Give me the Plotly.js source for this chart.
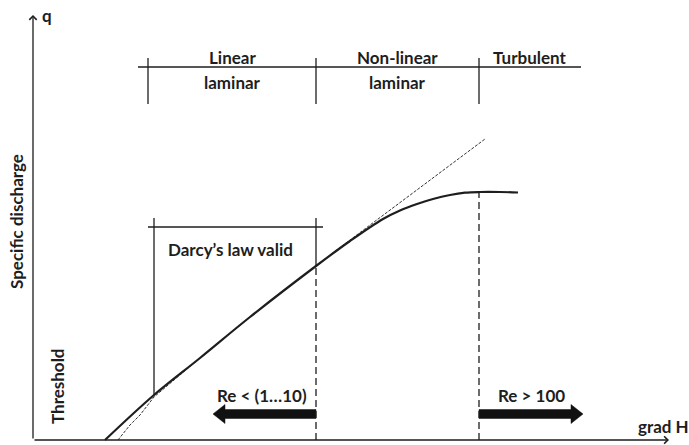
<!DOCTYPE html>
<html>
<head>
<meta charset="utf-8">
<script src="https://cdn.plot.ly/plotly-3.0.1.min.js"></script>
<style>html,body{margin:0;padding:0;background:#fff;}#chart{width:689px;height:445px;}</style>
</head>
<body>
<div id="chart"></div>
<script>
// Conceptual q vs grad H diagram (units: arbitrary, origin at axis crossing)
const gradH = [72, 121, 167, 217, 283, 317, 350, 367, 384, 400, 417, 432, 447, 467, 485];
const q     = [0, 45, 82, 123, 174, 199, 221, 229.5, 236, 241, 245, 247.3, 248, 248, 247.5];

const darcyX = [85, 97, 107, 121, 167, 217, 283, 317, 452];
const darcyQ = [0, 15, 25, 43, 82, 123, 174, 200, 301];

const regimeEdges   = [115, 283, 446];
const regimeCenters = [199, 364, 497];
const regimeTop     = ["Linear", "Non-linear", "Turbulent"];
const regimeBottom  = ["laminar", "laminar", ""];
const bracketSpan   = [105, 548];
const bracketLevel  = 373;
const bracketTicks  = [336, 382];

const darcyBoxX = [121, 283];
const darcyBoxSpan = [115, 290];
const darcyBoxTop = 213;
const darcyBoxTickTop = 222;
const darcyLabel = "Darcy’s law valid";

const reLabels    = ["Re < (1…10)", "Re > 100"];
const reArrowFrom = [283, 446];
const reArrowTo   = [180, 550];
const reArrowLevel = 26;

const axisEnds = {x: 636, y: 425};
const axisTitles = {x: "grad H", y: "q", side: "Specific discharge", threshold: "Threshold"};

const ink = "#1e1e1e";
const FONT = "Lato, 'Open Sans', sans-serif";
const FS = 17;

function interp(xs, ys, x) {
  for (let i = 0; i < xs.length - 1; i++) {
    if (x >= xs[i] && x <= xs[i+1]) {
      const t = (x - xs[i]) / (xs[i+1] - xs[i]);
      return ys[i] + t * (ys[i+1] - ys[i]);
    }
  }
  return ys[ys.length - 1];
}

const traces = [];

// thin dashed Darcy line
traces.push({x: darcyX, y: darcyQ, mode: "lines", line: {color: "#333", width: 1, dash: "3px,1.5px"}, hoverinfo: "skip"});
// main curve
traces.push({x: gradH, y: q, mode: "lines", line: {color: ink, width: 2.2, shape: "spline", smoothing: 1}, hoverinfo: "skip"});

// thick Re arrows as filled polygons
const bodyHalf = 4.5, headHalf = 9.5, headLen = 12;
for (let i = 0; i < reArrowFrom.length; i++) {
  const x0 = reArrowFrom[i], x1 = reArrowTo[i];
  const dir = Math.sign(x1 - x0);
  const xb = x1 - dir * headLen;
  const yc = reArrowLevel;
  traces.push({
    x: [x0, xb, xb, x1, xb, xb, x0, x0],
    y: [yc + bodyHalf, yc + bodyHalf, yc + headHalf, yc, yc - headHalf, yc - bodyHalf, yc - bodyHalf, yc + bodyHalf],
    mode: "lines", fill: "toself", fillcolor: "#111", line: {color: "#111", width: 0.5}, hoverinfo: "skip"
  });
}

const shapes = [];
const lineStyle = {color: ink, width: 1.3};
// bracket
shapes.push({type: "line", x0: bracketSpan[0], x1: bracketSpan[1], y0: bracketLevel, y1: bracketLevel, line: lineStyle});
regimeEdges.forEach(e => shapes.push({type: "line", x0: e, x1: e, y0: bracketTicks[0], y1: bracketTicks[1], line: lineStyle}));
// Darcy box
shapes.push({type: "line", x0: darcyBoxSpan[0], x1: darcyBoxSpan[1], y0: darcyBoxTop, y1: darcyBoxTop, line: lineStyle});
darcyBoxX.forEach(e => shapes.push({type: "line", x0: e, x1: e, y0: darcyBoxTickTop, y1: interp(gradH, q, e), line: lineStyle}));
// dashed verticals at regime boundaries
[regimeEdges[1], regimeEdges[2]].forEach(e => shapes.push({type: "line", x0: e, x1: e, y0: 0, y1: interp(gradH, q, e), line: {color: ink, width: 1.3, dash: "7px,4px"}}));

const annotations = [];
const tfont = (s) => ({family: FONT, size: s, color: ink, weight: "bold"});
// axes with open arrowheads
annotations.push({x: axisEnds.x, y: 0, ax: 0, ay: 0, axref: "x", ayref: "y", xref: "x", yref: "y", text: "", showarrow: true, arrowhead: 4, arrowsize: 1.1, arrowwidth: 1.3, arrowcolor: ink, standoff: 0});
annotations.push({x: 0, y: axisEnds.y, ax: 0, ay: 0, axref: "x", ayref: "y", xref: "x", yref: "y", text: "", showarrow: true, arrowhead: 4, arrowsize: 1.1, arrowwidth: 1.3, arrowcolor: ink, standoff: 0});

annotations.push({x: 14, y: axisEnds.y, text: axisTitles.y, showarrow: false, font: tfont(FS), xanchor: "center", yanchor: "middle"});
annotations.push({x: 630, y: 14, text: axisTitles.x, showarrow: false, font: tfont(FS), xanchor: "center", yanchor: "middle"});
annotations.push({x: -17, y: 218, text: axisTitles.side, showarrow: false, font: tfont(FS), textangle: -90, xanchor: "center", yanchor: "middle"});
annotations.push({x: 24, y: 54, text: axisTitles.threshold, showarrow: false, font: tfont(FS), textangle: -90, xanchor: "center", yanchor: "middle"});
annotations.push({x: (darcyBoxX[0] + darcyBoxX[1]) / 2 - 5, y: 191, text: darcyLabel, showarrow: false, font: tfont(FS), xanchor: "center", yanchor: "middle"});

for (let i = 0; i < regimeCenters.length; i++) {
  annotations.push({x: regimeCenters[i], y: 383, text: regimeTop[i], showarrow: false, font: tfont(FS), xanchor: "center", yanchor: "middle"});
  if (regimeBottom[i]) annotations.push({x: regimeCenters[i], y: 358, text: regimeBottom[i], showarrow: false, font: tfont(FS), xanchor: "center", yanchor: "middle"});
}
const reCenters = [229, 498];
reLabels.forEach((t, i) => annotations.push({x: reCenters[i], y: 45, text: t, showarrow: false, font: tfont(FS), xanchor: "center", yanchor: "middle"}));

const layout = {
  width: 689, height: 445,
  margin: {l: 0, r: 0, t: 0, b: 0},
  paper_bgcolor: "#fff", plot_bgcolor: "#fff",
  showlegend: false,
  xaxis: {range: [-33, 656], visible: false, fixedrange: true},
  yaxis: {range: [-5, 440], visible: false, fixedrange: true},
  shapes: shapes,
  annotations: annotations
};

Plotly.newPlot("chart", traces, layout, {displayModeBar: false, staticPlot: true});
</script>
</body>
</html>
